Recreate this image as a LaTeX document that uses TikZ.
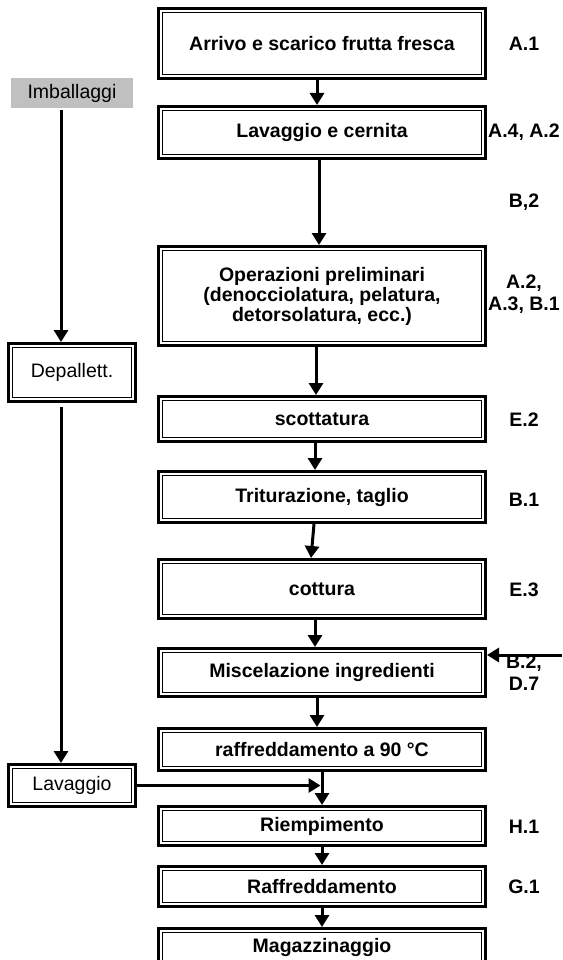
\documentclass[tikz,border=0pt]{standalone}
\usepackage{fontspec}
\setmainfont{Liberation Sans}
\usetikzlibrary{arrows.meta}
\begin{document}
\begin{tikzpicture}[x=1pt,y=-1pt,
  stage/.style={draw, line width=3pt, inner sep=0pt, outer sep=1.5pt,
    minimum width=327pt, align=center,
    font=\fontsize{19.5}{20}\selectfont\bfseries,
    path picture={\draw[line width=1.4pt]
      ([shift={(4.25pt,-4.25pt)}]path picture bounding box.north west) rectangle
      ([shift={(-4.25pt,4.25pt)}]path picture bounding box.south east);}},
  side/.style={stage, minimum width=127pt, font=\fontsize{19.5}{20}\selectfont},
  ref/.style={align=center, inner sep=0pt, font=\fontsize{19.5}{22}\selectfont\bfseries},
  flow/.style={line width=3pt, -{Triangle[width=14pt,length=12pt]}},
]
\useasboundingbox (0,0) rectangle (562,960);
\clip (0,0) rectangle (562,960);
\fill[white] (0,0) rectangle (562,960);

% main process column
\node[stage, minimum height=70pt] (b1) at (322,43.5) {Arrivo e scarico frutta fresca};
\node[stage, minimum height=52pt] (b2) at (322,132.5) {Lavaggio e cernita};
\node[stage, minimum height=99pt] (b3) at (322,296)
  {Operazioni preliminari\\(denocciolatura, pelatura,\\detorsolatura, ecc.)};
\node[stage, minimum height=45pt] (b4) at (322,419) {scottatura};
\node[stage, minimum height=51pt] (b5) at (322,497) {Triturazione, taglio};
\node[stage, minimum height=59pt] (b6) at (322,589) {cottura};
\node[stage, minimum height=48pt] (b7) at (322,672.5) {Miscelazione ingredienti};
\node[stage, minimum height=42pt] (b8) at (322,749.5) {raffreddamento a 90 °C};
\node[stage, minimum height=39pt] (b9) at (322,826) {Riempimento};
\node[stage, minimum height=40pt] (b10) at (322,886.5) {Raffreddamento};
\node[stage, minimum height=38pt] (b11) at (322,947.5) {Magazzinaggio};

% packaging column
\node[fill={rgb,255:red,192;green,192;blue,192}, minimum width=122pt, minimum height=30pt,
  inner sep=0pt, font=\fontsize{19.5}{20}\selectfont] (imb) at (72,93) {Imballaggi};
\node[side, minimum height=58pt] (dep) at (72,372.5) {Depallett.};
\node[side, minimum height=42pt] (lav) at (72,785.5) {Lavaggio};

% reference codes
\node[ref] (r1) at (524,44) {A.1};
\node[ref] (r2) at (524,132) {A.4, A.2};
\node[ref] (r3) at (524,202) {B,2};
\node[ref] (r4) at (524,294) {A.2,\\A.3, B.1};
\node[ref] (r5) at (524,420) {E.2};
\node[ref] (r6) at (524,500) {B.1};
\node[ref] (r7) at (524,590) {E.3};
\node[ref] (r8) at (524,673) {B.2,\\D.7};
\node[ref] (r9) at (524,827) {H.1};
\node[ref] (r10) at (524,887) {G.1};

% connectors
\draw[flow] ([xshift=-5pt]b1.south) -- ([xshift=-5pt]b2.north);
\draw[flow] ([xshift=-3pt]b2.south) -- ([xshift=-3pt]b3.north);
\draw[flow] ([xshift=-6pt]b3.south) -- ([xshift=-6pt]b4.north);
\draw[flow] ([xshift=-7pt]b4.south) -- ([xshift=-7pt]b5.north);
\draw[flow] ([xshift=-8pt]b5.south) -- ([xshift=-11pt]b6.north);
\draw[flow] ([xshift=-7pt]b6.south) -- ([xshift=-7pt]b7.north);
\draw[flow] ([xshift=-5pt]b7.south) -- ([xshift=-5pt]b8.north);
\draw[flow] (b8.south) -- (b9.north);
\draw[flow] (b9.south) -- (b10.north);
\draw[flow] (b10.south) -- (b11.north);
\coordinate (feed) at (562,655);
\draw[flow] (feed) -- (feed -| b7.east);
\draw[flow] ([xshift=-11pt,yshift=-2pt]imb.south) -- ([xshift=-11pt]dep.north);
\draw[flow] ([xshift=-11pt,yshift=-4pt]dep.south) -- ([xshift=-11pt]lav.north);
\draw[flow] (lav.east) -- ([xshift=-1.5pt]lav.east -| b9.north);
\end{tikzpicture}
\end{document}
